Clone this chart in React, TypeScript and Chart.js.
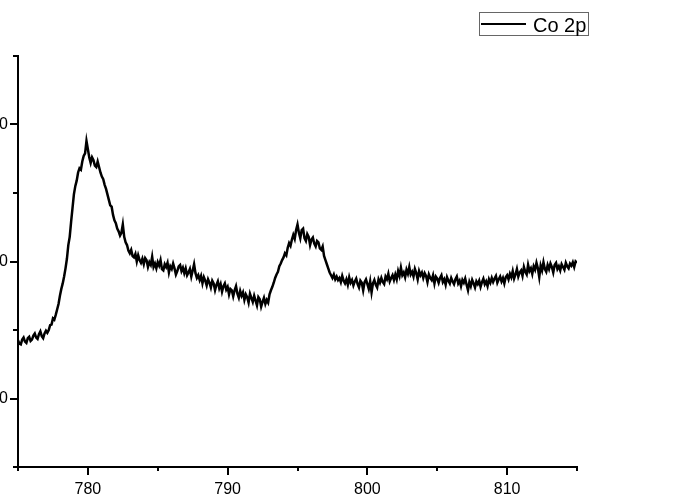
import React, { useEffect, useRef } from "react";
import { Chart, registerables } from "chart.js";

Chart.register(...registerables);

const seriesLabel = "Co 2p";
const xStart = 775;
const xStep = 0.1;
const intensity: number[] = [
  1425, 1400, 1395, 1430, 1445, 1415, 1405, 1440, 1450, 1420,
  1430, 1460, 1475, 1445, 1435, 1470, 1490, 1455, 1440, 1475,
  1495, 1480, 1500, 1535, 1540, 1585, 1575, 1610, 1650, 1690,
  1750, 1800, 1840, 1890, 1950, 2020, 2120, 2180, 2290, 2390,
  2490, 2550, 2590, 2650, 2680, 2670, 2730, 2770, 2790, 2880,
  2820, 2760, 2720, 2760, 2740, 2700, 2690, 2730, 2690, 2650,
  2620, 2600, 2560, 2530, 2490, 2450, 2410, 2400, 2340, 2300,
  2280, 2240, 2220, 2190, 2210, 2270, 2180, 2140, 2120, 2080,
  2060, 2085, 2040, 2030, 2055, 2000, 2045, 2010, 1990, 2020,
  1980, 2025, 2010, 1960, 1995, 1975, 2035, 1960, 1985, 1950,
  1995, 1970, 2010, 1945, 1935, 1980, 1960, 1990, 1920, 1965,
  1945, 1985, 1950, 1905, 1930, 1965, 1975, 1930, 1955, 1915,
  1950, 1900, 1920, 1945, 1890, 1935, 1980, 1915, 1880, 1900,
  1865, 1895, 1840, 1885, 1860, 1825, 1870, 1845, 1810, 1860,
  1840, 1790, 1830, 1855, 1805, 1835, 1780, 1820, 1840, 1795,
  1815, 1760, 1800, 1790, 1745, 1790, 1820, 1765, 1735, 1785,
  1750, 1775, 1720, 1760, 1740, 1700, 1765, 1735, 1705, 1750,
  1715, 1680, 1740, 1725, 1670, 1705, 1735, 1690, 1720, 1700,
  1760, 1790, 1815, 1845, 1880, 1905, 1925, 1965, 1985, 2010,
  2030, 2060, 2045, 2100, 2135, 2115, 2160, 2195, 2165, 2230,
  2270, 2210, 2170, 2230, 2240, 2170, 2150, 2200, 2180, 2120,
  2160, 2175, 2130, 2110, 2150, 2140, 2095, 2085, 2110, 2040,
  2010, 1980, 1950, 1920, 1900, 1880, 1905, 1870, 1890, 1865,
  1880, 1850, 1895, 1860, 1840, 1870, 1830, 1885, 1845, 1865,
  1825, 1855, 1875, 1835, 1810, 1860, 1845, 1790, 1850, 1870,
  1835, 1800, 1855, 1775, 1840, 1865, 1830, 1810, 1870, 1845,
  1880, 1850, 1835, 1890, 1870, 1910, 1855, 1880, 1900, 1865,
  1905, 1870, 1930, 1895, 1955, 1900, 1920, 1885, 1940, 1910,
  1960, 1905, 1925, 1890, 1945, 1915, 1870, 1930, 1900, 1920,
  1880, 1915, 1895, 1850, 1905, 1880, 1865, 1900, 1840, 1890,
  1875, 1845, 1880, 1900, 1850, 1870, 1830, 1885, 1860, 1840,
  1880, 1855, 1835, 1870, 1890, 1840, 1860, 1820, 1865, 1845,
  1875, 1830, 1790, 1850, 1820, 1865, 1840, 1810, 1855, 1835,
  1860, 1815, 1850, 1875, 1835, 1855, 1820, 1870, 1845, 1880,
  1850, 1875, 1895, 1845, 1870, 1890, 1855, 1880, 1840, 1885,
  1900, 1870, 1910, 1885, 1930, 1875, 1905, 1945, 1890, 1920,
  1935, 1895, 1960, 1925, 1905, 1975, 1930, 1950, 1910, 1965,
  1940, 1990, 1950, 1885, 1970, 1935, 1995, 1945, 1925, 1975,
  1945, 1985, 1960, 1920, 1975, 1990, 1945, 1965, 1935, 1980,
  1960, 1940, 1990, 1965, 1950, 1985, 1970, 1995, 1960, 2000,
  1990,
];
const xMin = 775;
const xMax = 815;
const yMin = 500;
const yMax = 3500;

const FONT = '"Liberation Sans", Arial, sans-serif';

const tickPlugin = {
  id: "customTicks",
  afterDraw(chart: any) {
    const ctx = chart.ctx;
    const xs = chart.scales.x;
    const ys = chart.scales.y;
    const area = chart.chartArea;
    ctx.save();
    ctx.strokeStyle = "#000";
    ctx.lineWidth = 2;
    ctx.beginPath();
    xs.ticks.forEach((t: any) => {
      const px = Math.round(xs.getPixelForValue(t.value));
      const len = t.value % 10 === 0 ? 8 : 4;
      ctx.moveTo(px, area.bottom);
      ctx.lineTo(px, area.bottom + len);
    });
    ys.ticks.forEach((t: any) => {
      const py = Math.round(ys.getPixelForValue(t.value));
      const len = t.value % 1000 === 0 ? 8 : 5;
      ctx.moveTo(area.left, py);
      ctx.lineTo(area.left - len, py);
    });
    ctx.stroke();

    // legend
    const bx = 539, by = 12, bw = 109, bh = 23;
    ctx.lineWidth = 1;
    ctx.strokeStyle = "#666";
    ctx.strokeRect(bx + 0.5, by + 0.5, bw, bh);
    ctx.strokeStyle = "#000";
    ctx.lineWidth = 2;
    ctx.beginPath();
    ctx.moveTo(bx + 2, by + 12);
    ctx.lineTo(bx + 47, by + 12);
    ctx.stroke();
    ctx.fillStyle = "#000";
    ctx.font = `20px ${FONT}`;
    ctx.textBaseline = "alphabetic";
    ctx.textAlign = "left";
    ctx.fillText(chart.data.datasets[0].label, bx + 54, by + 20);
    ctx.restore();
  },
};

export default function App() {
  const ref = useRef<HTMLCanvasElement>(null);
  useEffect(() => {
    if (!ref.current) return;
    const points = intensity.map((v, i) => ({ x: +(xStart + i * xStep).toFixed(1), y: v }));
    const chart = new Chart(ref.current, {
      type: "line",
      data: {
        datasets: [
          {
            label: seriesLabel,
            data: points,
            borderColor: "#000",
            borderWidth: 2.5,
            pointRadius: 0,
            tension: 0,
            fill: false,
          },
        ],
      },
      options: {
        animation: false,
        responsive: false,
        layout: { padding: { top: 56, right: 96, left: 0, bottom: 0 } },
        plugins: { legend: { display: false }, tooltip: { enabled: false } },
        scales: {
          x: {
            type: "linear",
            min: xMin,
            max: xMax,
            afterFit: (s: any) => {
              s.height = 37;
            },
            grid: {
              display: true,
              drawOnChartArea: false,
              drawTicks: true,
              tickLength: 8,
              tickColor: "rgba(0,0,0,0)",
            },
            border: { display: true, color: "#000", width: 2 },
            ticks: {
              stepSize: 5,
              autoSkip: false,
              maxRotation: 0,
              padding: 5,
              color: "#000",
              font: { family: FONT, size: 16 },
              callback: (v: any) => (Number(v) % 10 === 0 ? String(v) : ""),
            },
          },
          y: {
            type: "linear",
            min: yMin,
            max: yMax,
            afterFit: (s: any) => {
              s.width = 78;
            },
            grid: {
              display: true,
              drawOnChartArea: false,
              drawTicks: true,
              tickLength: 8,
              tickColor: "rgba(0,0,0,0)",
            },
            border: { display: true, color: "#000", width: 2 },
            ticks: {
              stepSize: 500,
              autoSkip: false,
              padding: 2,
              color: "#000",
              font: { family: FONT, size: 16 },
              callback: (v: any) => (Number(v) % 1000 === 0 ? String(v) : ""),
            },
          },
        },
      },
      plugins: [tickPlugin],
    });
    return () => chart.destroy();
  }, []);
  return (
    <div style={{ position: "fixed", left: -60, top: 0, width: 733, height: 504, background: "#fff" }}>
      <canvas ref={ref} width={733} height={504} style={{ display: "block" }} />
    </div>
  );
}
